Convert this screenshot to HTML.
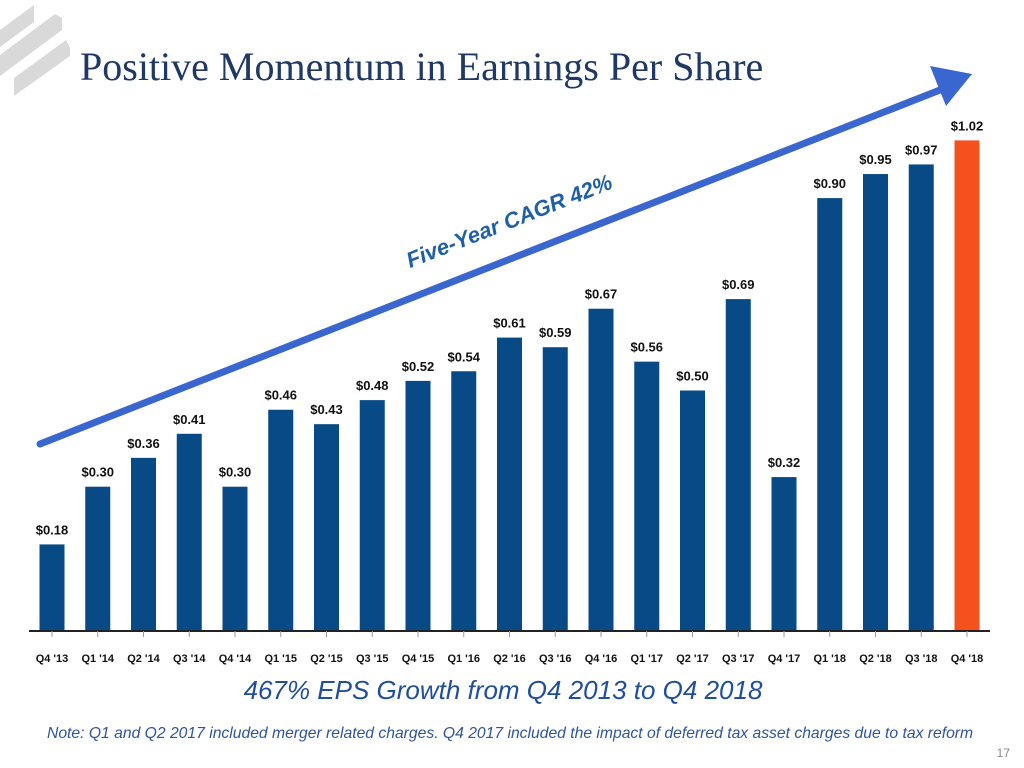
<!DOCTYPE html>
<html><head><meta charset="utf-8"><style>
html,body{margin:0;padding:0;background:#fff;width:1024px;height:768px;overflow:hidden;font-family:"Liberation Sans",sans-serif}
</style></head><body>
<svg width="1024" height="768" viewBox="0 0 1024 768" xmlns="http://www.w3.org/2000/svg">
  <g fill="#d9d9d9">
    <polygon points="0,30 34,5 34,22 0,47"/>
    <polygon points="0,55 55,14 62,18 62,30 0,76"/>
    <polygon points="14,78 66,40 70,48 70,56 14,96"/>
  </g>
  <text x="80" y="80" font-family="Liberation Serif, serif" font-size="40" fill="#1f3864">Positive Momentum in Earnings Per Share</text>
  <g id="bars"></g>
  <line x1="29" y1="631" x2="990" y2="631" stroke="#222" stroke-width="2"/>
  <g id="ticks"></g>
  <g>
    <line x1="40" y1="444" x2="940" y2="90" stroke="#3a66cf" stroke-width="7" stroke-linecap="round"/>
    <polygon points="972,74 930,66 946,106" fill="#3a66cf"/>
  </g>
  <text x="512" y="228" transform="rotate(-21.5 512 228)" text-anchor="middle" font-size="22" font-weight="bold" font-style="italic" fill="#1f5fa8">Five-Year CAGR 42%</text>
  <text x="503" y="699" text-anchor="middle" font-size="26" font-style="italic" fill="#1f4e9a">467% EPS Growth from Q4 2013 to Q4 2018</text>
  <text x="47" y="738" font-size="15.7" font-style="italic" fill="#2f5597">Note: Q1 and Q2 2017 included merger related charges. Q4 2017 included the impact of deferred tax asset charges due to tax reform</text>
  <text x="1010" y="757" text-anchor="end" font-size="12" fill="#888">17</text>
</svg>
<script>
const categories = ["Q4 '13","Q1 '14","Q2 '14","Q3 '14","Q4 '14","Q1 '15","Q2 '15","Q3 '15","Q4 '15","Q1 '16","Q2 '16","Q3 '16","Q4 '16","Q1 '17","Q2 '17","Q3 '17","Q4 '17","Q1 '18","Q2 '18","Q3 '18","Q4 '18"];
const epsValues = [0.18,0.30,0.36,0.41,0.30,0.46,0.43,0.48,0.52,0.54,0.61,0.59,0.67,0.56,0.50,0.69,0.32,0.90,0.95,0.97,1.02];
const valueLabels = ["$0.18","$0.30","$0.36","$0.41","$0.30","$0.46","$0.43","$0.48","$0.52","$0.54","$0.61","$0.59","$0.67","$0.56","$0.50","$0.69","$0.32","$0.90","$0.95","$0.97","$1.02"];
const NS="http://www.w3.org/2000/svg";
const baseY=631, pxPerUnit=481, x0=52, step=45.75, bw=25;
function xPos(i){return x0+i*step;}
function yPos(v){return baseY-v*pxPerUnit;}
const bars=document.getElementById('bars'), ticks=document.getElementById('ticks');
epsValues.forEach((v,i)=>{
  const cx=xPos(i), top=yPos(v);
  const r=document.createElementNS(NS,'rect');
  r.setAttribute('x',cx-bw/2);r.setAttribute('y',top);r.setAttribute('width',bw);r.setAttribute('height',baseY-top);
  r.setAttribute('fill', i===epsValues.length-1?'#f4511e':'#074a85');
  
  
  bars.appendChild(r);
  const t=document.createElementNS(NS,'text');
  t.setAttribute('x',cx);t.setAttribute('y',top-10);t.setAttribute('text-anchor','middle');
  t.setAttribute('font-size','13');t.setAttribute('font-weight','bold');t.setAttribute('fill','#111');
  t.textContent=valueLabels[i];
  
  
  bars.appendChild(t);
  const tk=document.createElementNS(NS,'line');
  tk.setAttribute('x1',cx);tk.setAttribute('x2',cx);tk.setAttribute('y1',baseY);tk.setAttribute('y2',baseY+6);tk.setAttribute('stroke','#999');
  
  
  ticks.appendChild(tk);
  const l=document.createElementNS(NS,'text');
  l.setAttribute('x',cx);l.setAttribute('y',662);l.setAttribute('text-anchor','middle');
  l.setAttribute('font-size','11');l.setAttribute('font-weight','bold');l.setAttribute('fill','#111');
  l.textContent=categories[i];
  
  
  ticks.appendChild(l);
});
</script>
</body></html>
